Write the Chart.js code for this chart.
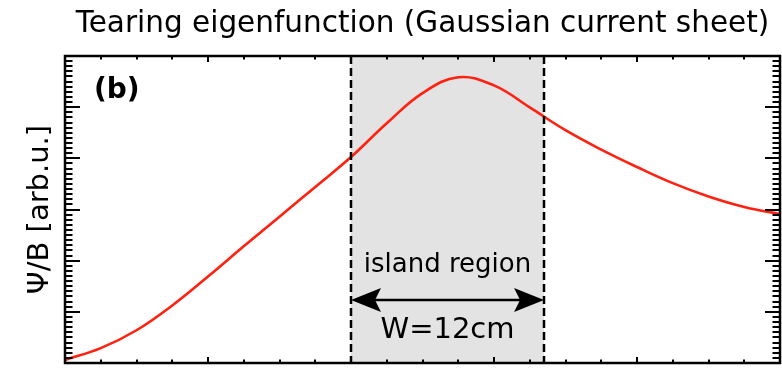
<!DOCTYPE html>
<html>
<head>
<meta charset="utf-8">
<script src="https://cdn.jsdelivr.net/npm/chart.js@4/dist/chart.umd.min.js"></script>
<style>
  html, body { margin: 0; padding: 0; background: #fff; }
</style>
</head>
<body>
<canvas id="chartPsi" width="782" height="369"></canvas>
<script>
// position across the sheet (arb. scale 0..100) and eigenfunction value
const xPos = [0, 5, 10, 15, 20, 25, 30, 35, 40, 45, 50, 55, 60, 65, 70, 75, 80, 85, 90, 95, 100];
const psiValues = [0.012, 0.058, 0.128, 0.225, 0.338, 0.456, 0.572, 0.688, 0.805, 0.937, 1.055, 1.117, 1.085, 0.999, 0.910, 0.834, 0.766, 0.703, 0.651, 0.610, 0.582];

// island region bounds (same x scale)
const islandLeft = 40;
const islandRight = 67;
const islandLabel = 'island region';
const widthLabel = 'W=12cm';
const panelLabel = '(b)';
const yLabel = 'Ψ/B [arb.u.]';

const FONT = '"DejaVu Sans", sans-serif';

// frame, inward ticks, island shading, arrow and labels
const idlFrame = {
    id: 'idlFrame',
    beforeDatasetsDraw(chart) {
        const { ctx, chartArea: a, scales: { x } } = chart;
        const l = x.getPixelForValue(islandLeft);
        const r = x.getPixelForValue(islandRight);
        ctx.save();
        ctx.fillStyle = '#e3e3e3';
        ctx.fillRect(l, a.top, r - l, a.bottom - a.top);
        ctx.restore();
    },
    afterDatasetsDraw(chart) {
        const { ctx, chartArea: a, scales: { x, y } } = chart;
        ctx.save();

        // dashed bounds
        ctx.strokeStyle = '#000';
        ctx.lineWidth = 2.5;
        ctx.setLineDash([8, 4]);
        [islandLeft, islandRight].forEach(v => {
            const px = Math.round(x.getPixelForValue(v));
            ctx.beginPath();
            ctx.moveTo(px, a.top);
            ctx.lineTo(px, a.bottom);
            ctx.stroke();
        });
        ctx.setLineDash([]);

        // double arrow
        const l = x.getPixelForValue(islandLeft);
        const r = x.getPixelForValue(islandRight);
        const ay = y.getPixelForValue(0.246);
        ctx.fillStyle = '#000';
        ctx.lineWidth = 2.5;
        ctx.beginPath();
        ctx.moveTo(l + 12, ay);
        ctx.lineTo(r - 12, ay);
        ctx.stroke();
        const head = (tip, dir) => {
            ctx.beginPath();
            ctx.moveTo(tip, ay);
            ctx.lineTo(tip + dir * 30, ay - 12);
            ctx.lineTo(tip + dir * 24, ay);
            ctx.lineTo(tip + dir * 30, ay + 12);
            ctx.closePath();
            ctx.fill();
        };
        head(l, 1);
        head(r, -1);

        // texts
        const cx = x.getPixelForValue((islandLeft + islandRight) / 2);
        ctx.textAlign = 'center';
        ctx.textBaseline = 'middle';
        ctx.font = '26px ' + FONT;
        ctx.fillText(islandLabel, cx, y.getPixelForValue(0.383));
        ctx.font = '29px ' + FONT;
        ctx.fillText(widthLabel, cx, y.getPixelForValue(0.129));
        ctx.font = 'bold 28px ' + FONT;
        ctx.textAlign = 'left';
        ctx.fillText(panelLabel, 94, y.getPixelForValue(1.065));

        // y axis title
        ctx.save();
        ctx.translate(40, (a.top + a.bottom) / 2);
        ctx.rotate(-Math.PI / 2);
        ctx.textAlign = 'center';
        ctx.font = '29px ' + FONT;
        ctx.fillText(yLabel, 0, 0);
        ctx.restore();

        // ticks pointing inward on all four sides
        ctx.lineWidth = 2;
        for (let v = 0; v <= 100.001; v += 5) {
            const px = Math.round(x.getPixelForValue(v));
            const len = (v % 20 === 0) ? 6 : 3.5;
            ctx.beginPath();
            ctx.moveTo(px, a.bottom); ctx.lineTo(px, a.bottom - len);
            ctx.moveTo(px, a.top); ctx.lineTo(px, a.top + len);
            ctx.stroke();
        }
        for (let i = 0; i <= 60; i++) {
            const py = Math.round(y.getPixelForValue(i * 0.02));
            const len = (i % 10 === 0) ? 15 : 7.5;
            ctx.beginPath();
            ctx.moveTo(a.left, py); ctx.lineTo(a.left + len, py);
            ctx.moveTo(a.right, py); ctx.lineTo(a.right - len, py);
            ctx.stroke();
        }

        // frame
        ctx.lineWidth = 2.5;
        ctx.strokeRect(a.left, a.top, a.right - a.left, a.bottom - a.top);
        ctx.restore();
    }
};

new Chart(document.getElementById('chartPsi'), {
    type: 'line',
    data: {
        datasets: [{
            data: xPos.map((v, i) => ({ x: v, y: psiValues[i] })),
            borderColor: 'rgb(255,32,16)',
            borderWidth: 2.6,
            pointRadius: 0,
            tension: 0.4,
            fill: false
        }]
    },
    options: {
        responsive: false,
        animation: false,
        devicePixelRatio: 1,
        layout: { padding: { left: 65, right: 2, top: 0, bottom: 6 } },
        scales: {
            x: { type: 'linear', min: 0, max: 100, display: false },
            y: { min: 0, max: 1.2, display: false }
        },
        plugins: {
            legend: { display: false },
            tooltip: { enabled: false },
            title: {
                display: true,
                fullSize: false,
                text: 'Tearing eigenfunction (Gaussian current sheet)',
                color: '#000',
                font: { family: FONT, size: 29.5, weight: 'normal', lineHeight: 1.2 },
                padding: { top: 7, bottom: 13.6 }
            }
        }
    },
    plugins: [idlFrame]
});
</script>
</body>
</html>
